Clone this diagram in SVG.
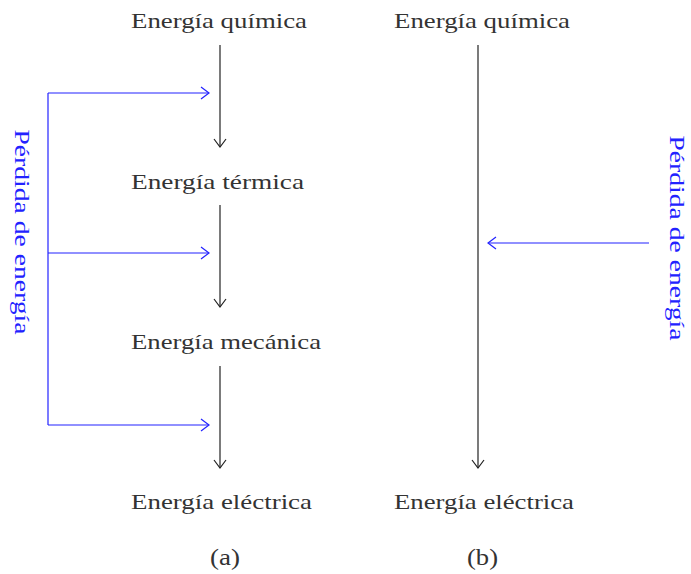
<svg xmlns="http://www.w3.org/2000/svg" width="691" height="574" viewBox="0 0 691 574">
<style>
.t{font-family:"Liberation Serif","Times New Roman",serif;font-size:22px;fill:#333333}
.b{font-family:"Liberation Serif","Times New Roman",serif;font-size:22px;fill:#2222ff}
.k{stroke:#222222;stroke-width:1.2;fill:none}
.bl{stroke:#2222ff;stroke-width:1.2;fill:none}
</style>
<defs>
<marker id="ak" markerWidth="14" markerHeight="14" refX="11" refY="7" orient="auto" markerUnits="userSpaceOnUse">
<path d="M3,1 L11,7 L3,13" fill="none" stroke="#222222" stroke-width="1.2"/>
</marker>
<marker id="ab" markerWidth="14" markerHeight="14" refX="11" refY="7" orient="auto" markerUnits="userSpaceOnUse">
<path d="M3,1 L11,7 L3,13" fill="none" stroke="#2222ff" stroke-width="1.2"/>
</marker>
</defs>
<g id="a-quimica"><text class="t" x="131" y="28" textLength="176" lengthAdjust="spacingAndGlyphs">Energía química</text></g>
<g id="a-termica"><text class="t" x="131" y="189" textLength="173" lengthAdjust="spacingAndGlyphs">Energía térmica</text></g>
<g id="a-mecanica"><text class="t" x="131" y="349" textLength="190" lengthAdjust="spacingAndGlyphs">Energía mecánica</text></g>
<g id="a-electrica"><text class="t" x="131" y="509" textLength="181" lengthAdjust="spacingAndGlyphs">Energía eléctrica</text></g>
<g id="a-label"><text class="t" x="210" y="565" textLength="30" lengthAdjust="spacingAndGlyphs" style="font-size:23px">(a)</text></g>
<g id="a-perdida"><text class="b" transform="translate(15,232) rotate(90)" text-anchor="middle" textLength="205" lengthAdjust="spacingAndGlyphs">Pérdida de energía</text></g>
<g id="b-quimica"><text class="t" x="394" y="28" textLength="176" lengthAdjust="spacingAndGlyphs">Energía química</text></g>
<g id="b-electrica"><text class="t" x="394" y="509" textLength="180" lengthAdjust="spacingAndGlyphs">Energía eléctrica</text></g>
<g id="b-label"><text class="t" x="467" y="565" textLength="31" lengthAdjust="spacingAndGlyphs" style="font-size:23px">(b)</text></g>
<g id="b-perdida"><text class="b" transform="translate(670,238) rotate(90)" text-anchor="middle" textLength="205" lengthAdjust="spacingAndGlyphs">Pérdida de energía</text></g>
<g id="connectors">
<line class="k" x1="220" y1="45" x2="220" y2="147" marker-end="url(#ak)"/>
<line class="k" x1="220" y1="205" x2="220" y2="307" marker-end="url(#ak)"/>
<line class="k" x1="220" y1="366" x2="220" y2="468" marker-end="url(#ak)"/>
<path class="bl" d="M48,425 L48,93"/>
<line class="bl" x1="48" y1="93" x2="209" y2="93" marker-end="url(#ab)"/>
<line class="bl" x1="48" y1="253" x2="209" y2="253" marker-end="url(#ab)"/>
<line class="bl" x1="48" y1="425" x2="209" y2="425" marker-end="url(#ab)"/>
<line class="k" x1="478" y1="45" x2="478" y2="468" marker-end="url(#ak)"/>
<line class="bl" x1="649" y1="243" x2="488" y2="243" marker-end="url(#ab)"/>
</g>
</svg>
